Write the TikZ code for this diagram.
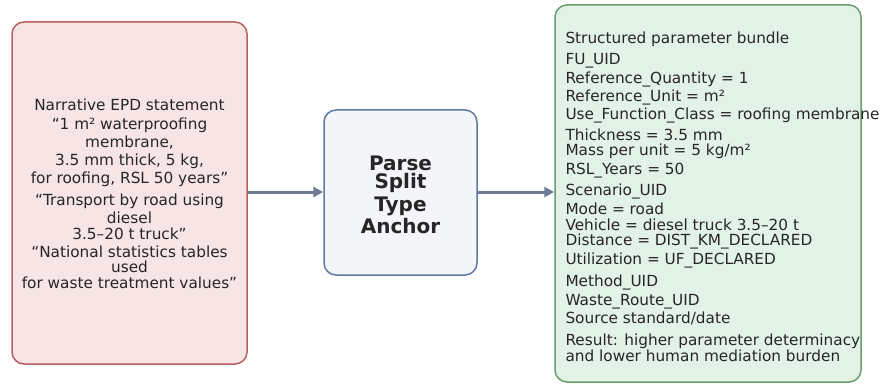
\documentclass[tikz,border=0pt]{standalone}
\usepackage{fontspec}
\setmainfont{DejaVu Sans}
\usetikzlibrary{arrows.meta}
\definecolor{txt}{HTML}{262626}
\definecolor{pinkfill}{HTML}{F7E4E4}
\definecolor{pinkdraw}{HTML}{B3625F}
\definecolor{bluefill}{HTML}{F3F5F9}
\definecolor{bluedraw}{HTML}{5B7AA8}
\definecolor{greenfill}{HTML}{E3F2E6}
\definecolor{greendraw}{HTML}{6A9E6C}
\definecolor{arrowc}{HTML}{6F7A95}
\tikzset{
  box/.style={draw, line width=1.5pt, rounded corners=12pt, inner sep=0pt},
  ltxt/.style={anchor=base, text=txt, inner sep=0pt, font=\fontsize{15.3}{18}\selectfont},
  rtxt/.style={anchor=base west, text=txt, inner sep=0pt, font=\fontsize{15.3}{18}\selectfont},
  mtxt/.style={anchor=base, text=txt, inner sep=0pt, font=\fontsize{20}{22}\selectfont\bfseries},
  flow/.style={draw=arrowc, line width=3pt, -{Triangle[length=10pt,width=10pt]}}
}
\begin{document}
\begin{tikzpicture}[x=1pt,y=-1pt]
\useasboundingbox (0,0) rectangle (883,385);
\node[box, fill=pinkfill, draw=pinkdraw, minimum width=235pt, minimum height=342pt] (left) at (129.5,193) {};
\node[box, fill=bluefill, draw=bluedraw, minimum width=153pt, minimum height=165pt] (mid) at (400.5,192.5) {};
\node[box, fill=greenfill, draw=greendraw, minimum width=306pt, minimum height=377pt] (right) at (708,193.5) {};
\draw[flow] (left.east |- 0,192) coordinate (a1) -- (mid.west |- a1);
\draw[flow] (mid.east |- 0,192) coordinate (a2) -- (right.west |- a2);
% left text
\node[ltxt] (l1) at (129.5,110.7) {Narrative EPD statement};
\node[ltxt] (l2) at (129.5,129.3) {“1 m² waterproofing};
\node[ltxt] (l3) at (129.5,147.7) {membrane,};
\node[ltxt] (l4) at (129.5,165.3) {3.5 mm thick, 5 kg,};
\node[ltxt] (l5) at (129.5,183.3) {for roofing, RSL 50 years”};
\node[ltxt] (l6) at (129.5,205) {“Transport by road using};
\node[ltxt] (l7) at (129.5,223.3) {diesel};
\node[ltxt] (l8) at (129.5,239.3) {3.5–20 t truck”};
\node[ltxt] (l9) at (129.5,257.3) {“National statistics tables};
\node[ltxt] (l10) at (129.5,272.7) {used};
\node[ltxt] (l11) at (129.5,288.3) {for waste treatment values”};
% middle text
\node[mtxt] (m1) at (400.5,170) {Parse};
\node[mtxt] (m2) at (400.5,188.3) {Split};
\node[mtxt] (m3) at (400.5,211.7) {Type};
\node[mtxt] (m4) at (400.5,233.3) {Anchor};
% right text
\node[rtxt] (r1) at (565.3,43.3) {Structured parameter bundle};
\node[rtxt] (r2) at (565.3,65) {FU\_UID};
\node[rtxt] (r3) at (565.3,83.3) {Reference\_Quantity = 1};
\node[rtxt] (r4) at (565.3,101.7) {Reference\_Unit = m²};
\node[rtxt] (r5) at (565.3,120) {Use\_Function\_Class = roofing membrane};
\node[rtxt] (r6) at (565.3,140) {Thickness = 3.5 mm};
\node[rtxt] (r7) at (565.3,155) {Mass per unit = 5 kg/m²};
\node[rtxt] (r8) at (565.3,174) {RSL\_Years = 50};
\node[rtxt] (r9) at (565.3,195.7) {Scenario\_UID};
\node[rtxt] (r10) at (565.3,214) {Mode = road};
\node[rtxt] (r11) at (565.3,230) {Vehicle = diesel truck 3.5–20 t};
\node[rtxt] (r12) at (565.3,245.7) {Distance = DIST\_KM\_DECLARED};
\node[rtxt] (r13) at (565.3,264) {Utilization = UF\_DECLARED};
\node[rtxt] (r14) at (565.3,286.7) {Method\_UID};
\node[rtxt] (r15) at (565.3,305) {Waste\_Route\_UID};
\node[rtxt] (r16) at (565.3,323.3) {Source standard/date};
\node[rtxt] (r17) at (565.3,345.7) {Result: higher parameter determinacy};
\node[rtxt] (r18) at (565.3,361.7) {and lower human mediation burden};
\end{tikzpicture}
\end{document}
